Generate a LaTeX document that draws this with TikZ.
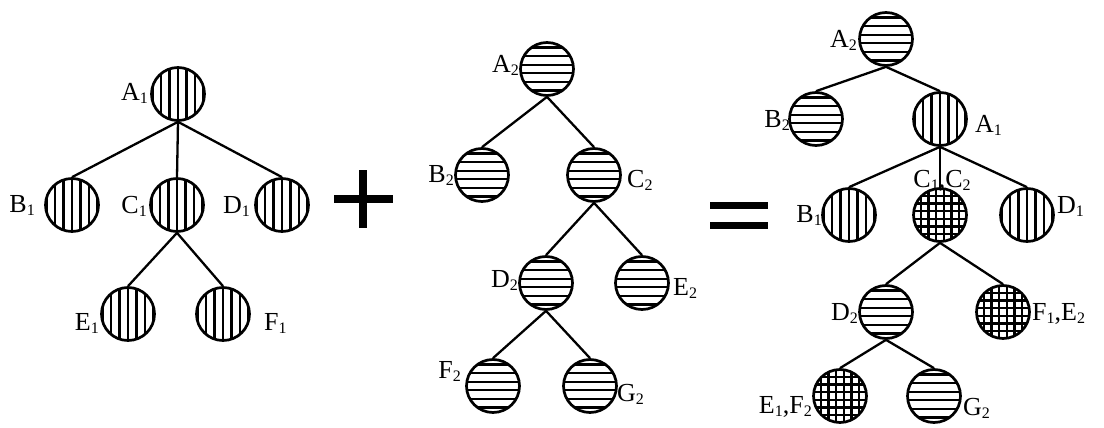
\documentclass[tikz,border=0pt]{standalone}
\usepackage{fontspec}
\setmainfont{Liberation Serif}
\newcommand\lsub[1]{\raisebox{-3pt}{\fontsize{16}{16}\selectfont #1}}
\begin{document}
\begin{tikzpicture}[x=1pt,y=-1pt,
  hatchline/.style={line width=2.3pt},
  tnode/.style={circle, draw, line width=2.7pt, minimum size=53pt, inner sep=0pt},
  vhatch/.style={tnode, path picture={\foreach \k in {-3,...,3}{\draw[hatchline] ([xshift=\k*8.5pt]path picture bounding box.center) ++(0,-30) -- ++(0,60);}}},
  hhatch/.style={tnode, path picture={\foreach \k in {-3,...,2}{\draw[hatchline] ([yshift=(\k+0.5)*8.6pt]path picture bounding box.center) ++(-30,0) -- ++(60,0);}}},
  xhatch/.style={tnode, path picture={\foreach \k in {-4,...,3}{\draw[hatchline] ([yshift=(\k+0.5)*7.6pt]path picture bounding box.center) ++(-30,0) -- ++(60,0); \draw[hatchline] ([xshift=(\k+0.5)*7.6pt]path picture bounding box.center) ++(0,-30) -- ++(0,60);}}},
  conn/.style={line width=2.3pt},
  lbl/.style={inner sep=0pt, font=\fontsize{26}{29}\selectfont},
  symb/.style={fill=black}
]
\useasboundingbox[fill=white] (0,0) rectangle (1104,428);

% ---------- Tree 1 ----------
\node[vhatch] (t1A1) at (178,94) {};
\node[vhatch] (t1B1) at (72,205) {};
\node[vhatch] (t1C1) at (177,205) {};
\node[vhatch] (t1D1) at (282,205) {};
\node[vhatch] (t1E1) at (128,314) {};
\node[vhatch] (t1F1) at (223,314) {};
\draw[conn] (t1A1.south) -- (t1B1.north);
\draw[conn] (t1A1.south) -- (t1C1.north);
\draw[conn] (t1A1.south) -- (t1D1.north);
\draw[conn] (t1C1.south) -- (t1E1.north);
\draw[conn] (t1C1.south) -- (t1F1.north);
\node[lbl, anchor=base east] (l1A1) at (148,100) {A\lsub1};
\node[lbl, anchor=base east] (l1B1) at (35,212) {B\lsub1};
\node[lbl, anchor=base east] (l1C1) at (147,213) {C\lsub1};
\node[lbl, anchor=base east] (l1D1) at (250,213) {D\lsub1};
\node[lbl, anchor=base east] (l1E1) at (99,330) {E\lsub1};
\node[lbl, anchor=base west] (l1F1) at (264,330) {F\lsub1};

% plus
\fill[symb] (334,195) rectangle (393,203);
\fill[symb] (359,170) rectangle (367,228);

% ---------- Tree 2 ----------
\node[hhatch] (t2A2) at (547,69) {};
\node[hhatch] (t2B2) at (482,175) {};
\node[hhatch] (t2C2) at (594,175) {};
\node[hhatch] (t2D2) at (546,283) {};
\node[hhatch] (t2E2) at (642,283) {};
\node[hhatch] (t2F2) at (493,386) {};
\node[hhatch] (t2G2) at (590,386) {};
\draw[conn] (t2A2.south) -- (t2B2.north);
\draw[conn] (t2A2.south) -- (t2C2.north);
\draw[conn] (t2C2.south) -- (t2D2.north);
\draw[conn] (t2C2.south) -- (t2E2.north);
\draw[conn] (t2D2.south) -- (t2F2.north);
\draw[conn] (t2D2.south) -- (t2G2.north);
\node[lbl, anchor=base east] (l2A2) at (519,73) {A\lsub2};
\node[lbl, anchor=base east] (l2B2) at (454,182) {B\lsub2};
\node[lbl, anchor=base west] (l2C2) at (627,187) {C\lsub2};
\node[lbl, anchor=base east] (l2D2) at (518,287) {D\lsub2};
\node[lbl, anchor=base west] (l2E2) at (673,295) {E\lsub2};
\node[lbl, anchor=base east] (l2F2) at (461,378) {F\lsub2};
\node[lbl, anchor=base west] (l2G2) at (617,401) {G\lsub2};

% equals
\fill[symb] (710,202) rectangle (768,209);
\fill[symb] (710,222) rectangle (768,229);

% ---------- Tree 3 ----------
\node[hhatch] (t3A2) at (886,39) {};
\node[hhatch] (t3B2) at (816,119) {};
\node[vhatch] (t3A1) at (940,119) {};
\node[vhatch] (t3B1) at (849,215) {};
\node[xhatch] (t3C) at (940,215) {};
\node[vhatch] (t3D1) at (1027,215) {};
\node[hhatch] (t3D2) at (886,312) {};
\node[xhatch] (t3FE) at (1003,312) {};
\node[xhatch] (t3EF) at (840,396) {};
\node[hhatch] (t3G2) at (934,396) {};
\draw[conn] (t3A2.south) -- (t3B2.north);
\draw[conn] (t3A2.south) -- (t3A1.north);
\draw[conn] (t3A1.south) -- (t3B1.north);
\draw[conn] (t3A1.south) -- (t3C.north);
\draw[conn] (t3A1.south) -- (t3D1.north);
\draw[conn] (t3C.south) -- (t3D2.north);
\draw[conn] (t3C.south) -- (t3FE.north);
\draw[conn] (t3D2.south) -- (t3EF.north);
\draw[conn] (t3D2.south) -- (t3G2.north);
\node[lbl, anchor=base east] (l3A2) at (857,48) {A\lsub2};
\node[lbl, anchor=base east] (l3B2) at (790,128) {B\lsub2};
\node[lbl, anchor=base west] (l3A1) at (975,132) {A\lsub1};
\node[lbl, anchor=base east] (l3B1) at (822,222) {B\lsub1};
\node[lbl, anchor=base] (l3C) at (942,187) {C\lsub1,C\lsub2};
\node[lbl, anchor=base west] (l3D1) at (1057,213) {D\lsub1};
\node[lbl, anchor=base east] (l3D2) at (858,320) {D\lsub2};
\node[lbl, anchor=base west] (l3FE) at (1032,320) {F\lsub1,E\lsub2};
\node[lbl, anchor=base east] (l3EF) at (812,413) {E\lsub1,F\lsub2};
\node[lbl, anchor=base west] (l3G2) at (963,415) {G\lsub2};
\end{tikzpicture}
\end{document}
